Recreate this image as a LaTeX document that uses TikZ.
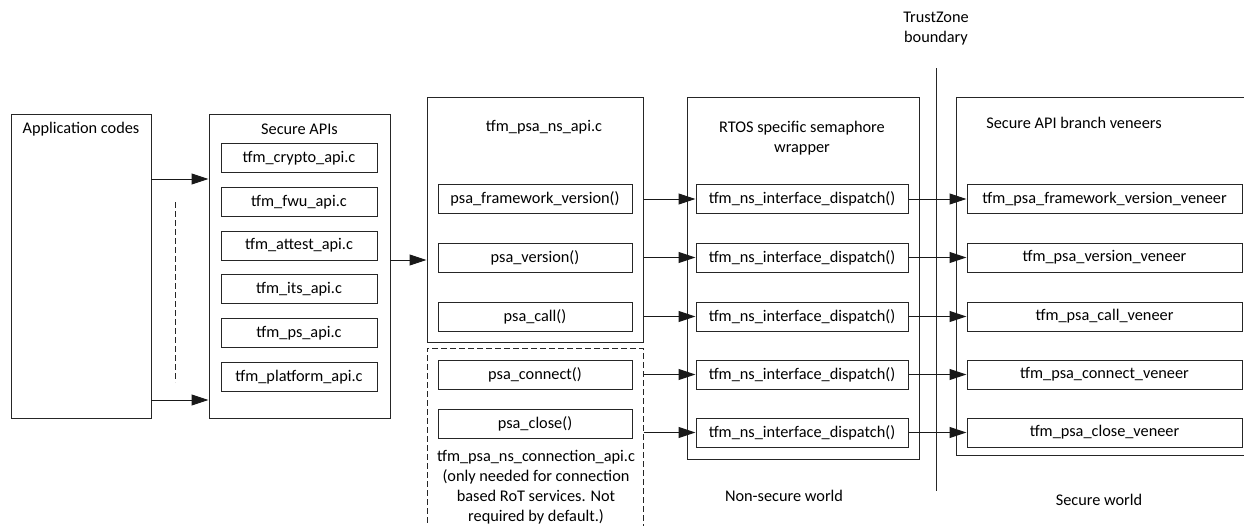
\documentclass[tikz,border=0pt]{standalone}
\usepackage{fontspec}
\setmainfont{Carlito}
\usetikzlibrary{arrows.meta}
\begin{document}
\begin{tikzpicture}[x=1pt,y=-1pt,
  every node/.style={font=\fontsize{16.3}{20}\selectfont, inner sep=0pt},
  frame/.style={draw=black!85, line width=1pt},
  item/.style={frame, minimum height=29pt},
  dashedframe/.style={draw=black!85, line width=1pt, dash pattern=on 6pt off 3pt},
  link/.style={draw=black!90, line width=1pt, -{Triangle[length=17pt,width=11pt]}},
  caption/.style={align=center}
]
\useasboundingbox (0,0) rectangle (1244,525);

% outer frames
\node[frame, minimum width=140pt, minimum height=304pt] (app) at (81,266) {};
\node[frame, minimum width=181pt, minimum height=304pt] (sapi) at (299.5,266) {};
\node[frame, minimum width=216pt, minimum height=245pt] (nsapi) at (535,219.5) {};
\node[dashedframe, minimum width=216pt, minimum height=200pt] (conn) at (535,448) {};
\node[frame, minimum width=232pt, minimum height=362pt] (rtos) at (803,278) {};
\node[frame, minimum width=300pt, minimum height=358pt] (sec) at (1106,276) {};

% titles
\node at (81,129) {Application codes};
\node at (299.5,129) {Secure APIs};
\node at (544,127) {tfm\_psa\_ns\_api.c};
\node[caption] at (802,138) {RTOS specific semaphore\\wrapper};
\node at (1074,123) {Secure API branch veneers};
\node[caption] (tz) at (936,29) {TrustZone\\boundary};
\node (nsw) at (784,496) {Non-secure world};
\node (sw) at (1099,500) {Secure world};
\node[caption] (conntxt) at (536,487) {tfm\_psa\_ns\_connection\_api.c\\(only needed for connection\\based RoT services. Not\\required by default.)};

% secure API sources
\foreach \n/\t [count=\i from 0] in {c1/tfm\_crypto\_api.c, c2/tfm\_fwu\_api.c, c3/tfm\_attest\_api.c, c4/tfm\_its\_api.c, c5/tfm\_ps\_api.c, c6/tfm\_platform\_api.c}
  \node[item, minimum width=156pt] (\n) at (299, 158+43.8*\i) {\t};

% PSA client functions
\node[item, minimum width=194pt] (p1) at (535,199) {psa\_framework\_version()};
\node[item, minimum width=194pt] (p2) at (535,257.5) {psa\_version()};
\node[item, minimum width=194pt] (p3) at (535,316.5) {psa\_call()};
\node[item, minimum width=194pt] (p4) at (535,374.5) {psa\_connect()};
\node[item, minimum width=194pt] (p5) at (535,424) {psa\_close()};

% dispatch wrappers and veneers
\foreach \i/\y in {1/199, 2/257.5, 3/316.5, 4/374.5, 5/432.5}
  \node[item, minimum width=212pt] (d\i) at (802,\y) {tfm\_ns\_interface\_dispatch()};
\node[item, minimum width=275pt] (v1) at (1104.5,199) {tfm\_psa\_framework\_version\_veneer};
\node[item, minimum width=275pt] (v2) at (1104.5,257.5) {tfm\_psa\_version\_veneer};
\node[item, minimum width=275pt] (v3) at (1104.5,316.5) {tfm\_psa\_call\_veneer};
\node[item, minimum width=275pt] (v4) at (1104.5,374.5) {tfm\_psa\_connect\_veneer};
\node[item, minimum width=275pt] (v5) at (1104.5,432.5) {tfm\_psa\_close\_veneer};

% TrustZone boundary line
\coordinate (tztop) at (936,68);
\coordinate (tzbot) at (936,491);
\draw[draw=black!85, line width=1pt] (tztop) -- (tzbot);

% application calls
\coordinate (a1) at (151,179);
\coordinate (a2) at (151,400);
\draw[link] (a1) -- (sapi.west |- a1);
\draw[link] (a2) -- (sapi.west |- a2);
\coordinate (g1) at (175,202);
\coordinate (g2) at (175,382);
\draw[dashedframe] (g1) -- (g2);

\coordinate (s1) at (390,260);
\draw[link] (s1) -- (nsapi.west |- s1);

% client API to dispatch
\draw[link] (nsapi.east |- d1) -- (d1.west);
\draw[link] (nsapi.east |- d2) -- (d2.west);
\draw[link] (nsapi.east |- d3) -- (d3.west);
\draw[link] (conn.east |- d4) -- (d4.west);
\draw[link] (conn.east |- d5) -- (d5.west);

% dispatch to veneers
\foreach \i in {1,...,5}
  \draw[link] (d\i.east) -- (v\i.west);
\end{tikzpicture}
\end{document}
